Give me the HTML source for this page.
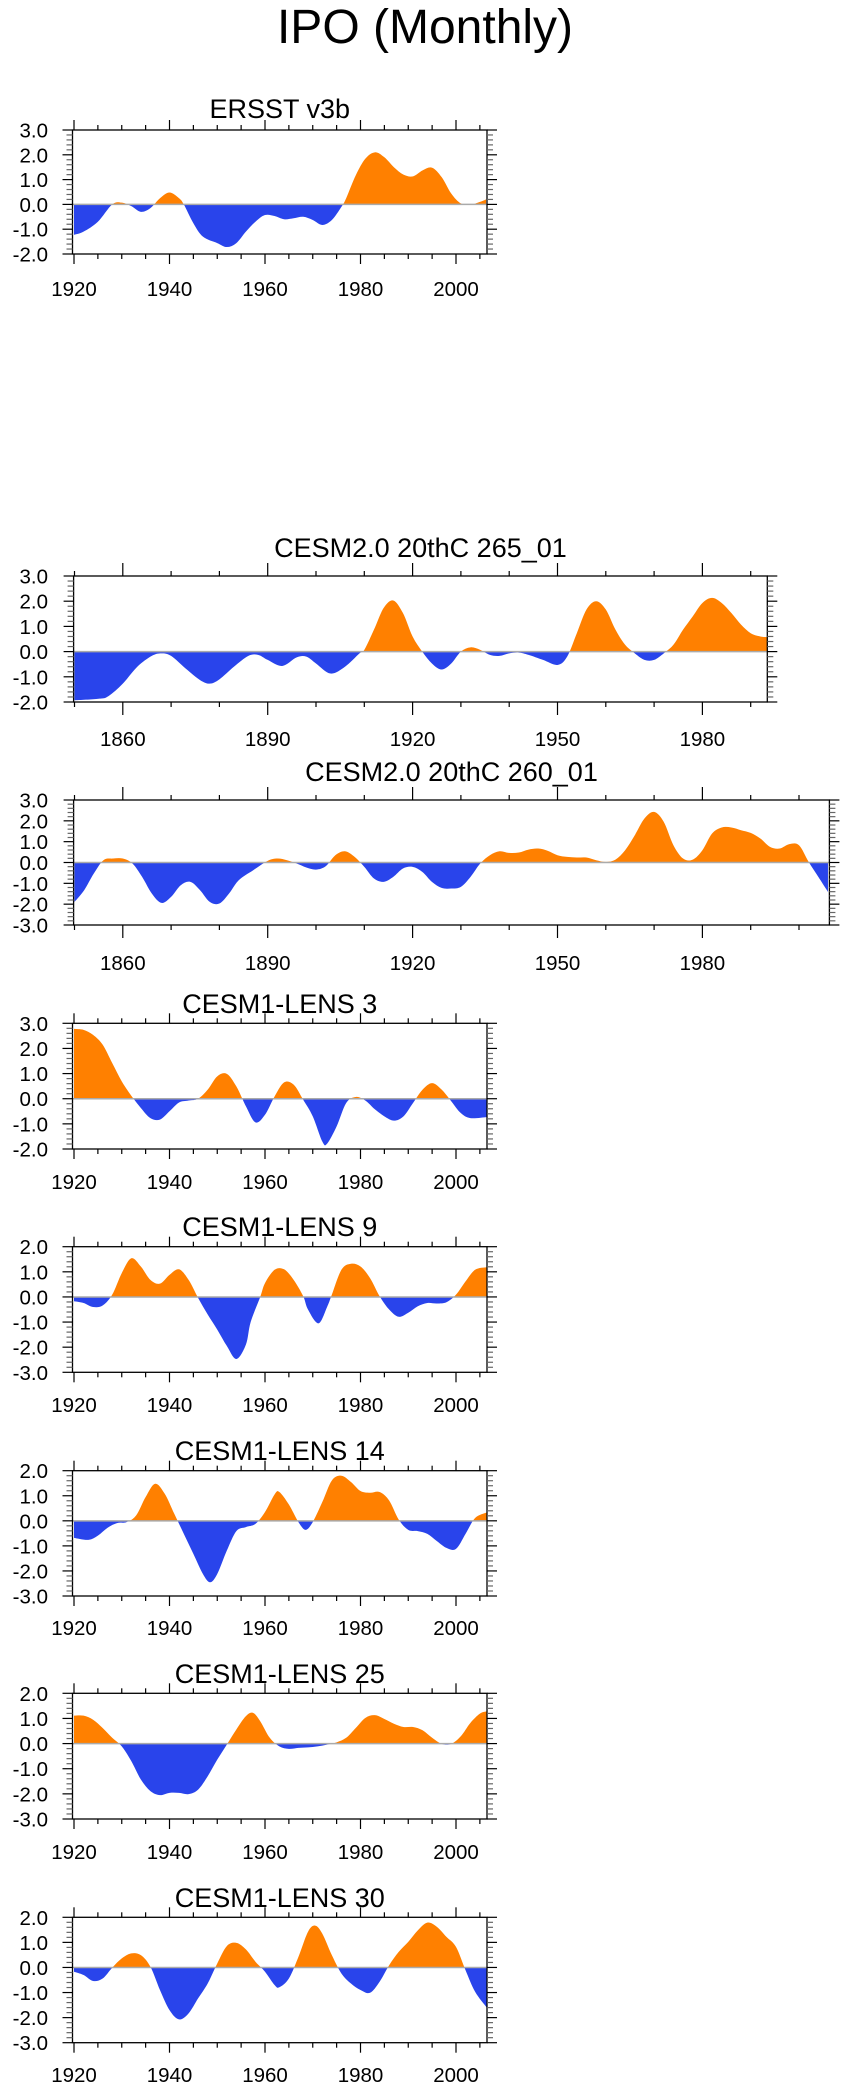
<!DOCTYPE html>
<html><head><meta charset="utf-8">
<style>
html,body{margin:0;padding:0;background:#fff;}
svg{display:block;font-family:"Liberation Sans",Arial,sans-serif;}
</style></head>
<body>
<svg id="fig" width="850" height="2091" viewBox="0 0 850 2091" xmlns="http://www.w3.org/2000/svg">
<text x="425" y="43" font-size="48" text-anchor="middle" fill="#000">IPO (Monthly)</text>
</svg>
<script>
// ---------- data ----------
const ersstYears = [1920,1922,1925,1928,1930,1932,1934,1936,1938,1940,1942,1943,1945,1947,1950,1952,1954,1956,1958,1960,1962,1964,1966,1968,1970,1972,1974,1976,1977,1979,1981,1983,1985,1987,1989,1991,1993,1995,1997,1999,2001,2003,2005,2006.3];
const ersstValues = [-1.23,-1.1,-0.7,0,0.07,-0.07,-0.3,-0.15,0.25,0.48,0.25,0,-0.76,-1.3,-1.56,-1.72,-1.56,-1.1,-0.7,-0.43,-0.47,-0.6,-0.56,-0.5,-0.63,-0.83,-0.63,-0.1,0.25,1.17,1.84,2.1,1.9,1.5,1.2,1.13,1.37,1.48,1.1,0.44,0.04,-0.02,0.1,0.2];

const c265Years = [1850,1855,1857,1860,1863,1866,1868,1870,1873,1876,1878,1880,1883,1886,1888,1890,1893,1896,1898,1900,1903,1906,1909,1910,1912,1914,1916,1918,1920,1922,1924,1926,1928,1930,1932,1934,1936,1938,1940,1942,1944,1947,1950,1952,1954,1956,1958,1960,1962,1964,1966,1968,1970,1972,1974,1976,1978,1980,1982,1984,1986,1988,1990,1992,1993.5];
const c265Values = [-1.93,-1.87,-1.77,-1.27,-0.6,-0.17,-0.07,-0.17,-0.67,-1.13,-1.27,-1.1,-0.6,-0.17,-0.13,-0.33,-0.57,-0.23,-0.2,-0.47,-0.87,-0.6,-0.07,0.07,0.87,1.73,2.03,1.53,0.6,0,-0.47,-0.71,-0.47,0,0.17,0.07,-0.13,-0.17,-0.07,-0.04,-0.13,-0.33,-0.53,-0.2,0.73,1.67,2.0,1.67,0.87,0.27,-0.07,-0.33,-0.33,-0.07,0.27,0.87,1.4,1.93,2.13,1.93,1.53,1.07,0.73,0.6,0.57];

const c260Years = [1850,1852,1854,1856,1858,1860,1862,1864,1866,1868,1870,1872,1874,1876,1878,1880,1882,1884,1887,1890,1892,1894,1896,1898,1900,1902,1904,1906,1908,1910,1912,1914,1916,1918,1920,1922,1924,1926,1928,1930,1932,1934,1936,1938,1940,1942,1944,1946,1948,1950,1952,1954,1956,1958,1960,1962,1964,1966,1968,1970,1972,1974,1976,1978,1980,1982,1984,1986,1988,1990,1992,1994,1996,1998,2000,2002,2004,2006];
const c260Values = [-1.89,-1.33,-0.53,0.11,0.19,0.19,-0.05,-0.69,-1.49,-1.94,-1.65,-1.09,-0.93,-1.33,-1.89,-1.97,-1.49,-0.85,-0.37,0.08,0.19,0.11,-0.05,-0.24,-0.34,-0.18,0.35,0.54,0.27,-0.21,-0.77,-0.93,-0.69,-0.29,-0.21,-0.45,-0.93,-1.22,-1.25,-1.17,-0.69,-0.05,0.35,0.54,0.46,0.48,0.62,0.67,0.56,0.35,0.27,0.24,0.24,0.11,0.03,0.14,0.59,1.31,2.11,2.43,1.95,0.83,0.19,0.14,0.59,1.39,1.68,1.68,1.55,1.42,1.15,0.75,0.67,0.88,0.83,0.03,-0.69,-1.41];

const l3Years = [1920,1922,1924,1926,1928,1930,1932,1934,1936,1938,1940,1942,1944,1946,1948,1950,1952,1954,1956,1958,1960,1962,1964,1966,1968,1970,1972,1973,1975,1977,1979,1981,1983,1985,1987,1989,1991,1993,1995,1997,1999,2001,2003,2006.4];
const l3Values = [2.78,2.74,2.54,2.15,1.42,0.69,0.12,-0.37,-0.77,-0.83,-0.5,-0.15,-0.07,0,0.36,0.89,0.99,0.49,-0.3,-0.94,-0.64,0.09,0.65,0.56,-0.04,-0.7,-1.7,-1.79,-1.1,-0.17,0.07,-0.07,-0.42,-0.7,-0.87,-0.7,-0.17,0.36,0.62,0.36,-0.1,-0.57,-0.77,-0.73];

const l9Years = [1920,1922,1924,1926,1928,1930,1932,1934,1936,1938,1940,1942,1944,1946,1948,1950,1952,1954,1956,1957,1959,1960,1962,1964,1966,1968,1969,1971.2,1973,1974,1976,1978,1980,1982,1984,1986,1988,1990,1992,1994,1996,1998,2000,2002,2004,2006.4];
const l9Values = [-0.17,-0.24,-0.4,-0.34,0.09,0.95,1.54,1.21,0.68,0.53,0.88,1.1,0.68,-0.04,-0.7,-1.3,-1.95,-2.47,-1.9,-1.0,0,0.55,1.08,1.1,0.68,0.03,-0.5,-1.05,-0.4,0.09,1.08,1.32,1.21,0.75,0.03,-0.5,-0.79,-0.63,-0.37,-0.24,-0.26,-0.21,0.09,0.62,1.08,1.18];

const l14Years = [1920,1923,1925,1927,1929,1931,1933,1935,1937,1939,1941,1943,1945,1947,1948.5,1950,1952,1954,1956,1958,1960,1962,1963,1965,1967,1968.5,1970,1972,1974,1976,1978,1980,1982,1984,1986,1988,1990,1992,1994,1996,1998,2000,2002,2004,2006.4];
const l14Values = [-0.68,-0.76,-0.59,-0.28,-0.09,-0.05,0.21,0.95,1.48,1.08,0.28,-0.52,-1.32,-2.12,-2.45,-2.12,-1.19,-0.41,-0.25,-0.12,0.35,1.05,1.15,0.65,-0.05,-0.36,-0.05,0.75,1.61,1.8,1.55,1.19,1.12,1.15,0.81,0.05,-0.36,-0.41,-0.52,-0.81,-1.08,-1.12,-0.52,0.11,0.33];

const l25Years = [1920,1922,1924,1926,1928,1930,1932,1934,1936,1938,1940,1942,1944,1946,1948,1950,1952,1954,1956,1957.5,1959,1961,1963,1965,1967,1969,1971,1973,1975,1977,1979,1981,1983,1985,1987,1989,1991,1993,1995,1997,1999,2001,2003,2005,2006.4];
const l25Values = [1.11,1.11,0.95,0.62,0.23,-0.11,-0.7,-1.43,-1.89,-2.05,-1.96,-1.96,-2.01,-1.83,-1.3,-0.64,-0.04,0.56,1.09,1.22,0.89,0.23,-0.11,-0.21,-0.17,-0.15,-0.11,-0.04,0.05,0.23,0.62,1.02,1.13,0.98,0.79,0.66,0.66,0.53,0.23,-0.01,-0.01,0.29,0.82,1.19,1.28];

const l30Years = [1920,1922,1924,1926,1928,1930,1932,1934,1936,1938,1940,1942,1944,1946,1948,1950,1952,1954,1956,1958,1960,1962,1963,1965,1967,1969,1970.5,1972,1974,1976,1978,1980,1982,1984,1986,1988,1990,1992,1994,1996,1998,2000,2002,2004,2006.4];
const l30Values = [-0.17,-0.3,-0.54,-0.44,-0.01,0.36,0.56,0.49,0.03,-0.9,-1.7,-2.07,-1.83,-1.23,-0.64,0.16,0.85,0.98,0.72,0.23,-0.17,-0.7,-0.79,-0.44,0.42,1.42,1.67,1.35,0.49,-0.24,-0.64,-0.9,-1.01,-0.57,0.09,0.62,1.02,1.48,1.79,1.62,1.22,0.82,-0.11,-0.97,-1.59];

const yTicks5a = [3,2,1,0,-1,-2];
const yTicks6 = [3,2,1,0,-1,-2,-3];
const yTicks5b = [2,1,0,-1,-2,-3];
const xTicksLens = [1920,1940,1960,1980,2000];
const xTicksCesm = [1860,1890,1920,1950,1980];

// ---------- layout ----------
const NS = "http://www.w3.org/2000/svg";
const svg = document.getElementById("fig");
const ORANGE = "#ff8000", BLUE = "#2944eb";
function mk(tag, attrs, parent){
  const e = document.createElementNS(NS, tag);
  for (const k in attrs) e.setAttribute(k, attrs[k]);
  (parent||svg).appendChild(e);
  return e;
}

const panels = [
  {id:"ersst", title:"ERSST v3b", years:ersstYears, values:ersstValues, yTicks:yTicks5a, xTicks:xTicksLens, ymax:3, ymin:-2,
   left:72.5, right:487, y0ref:1920, x0ref:74, pxPerYr:4.775, yrMin:1900, yrMax:2010, minorStep:5, top:130, bottom:254, titleY:118, labY:296},
  {id:"cesm2-265", title:"CESM2.0 20thC 265_01", years:c265Years, values:c265Values, yTicks:yTicks5a, xTicks:xTicksCesm, ymax:3, ymin:-2,
   left:73.6, right:767.3, y0ref:1860, x0ref:122.8, pxPerYr:4.83, yrMin:1850, yrMax:1993, minorStep:10, top:576, bottom:702, titleY:557, labY:746},
  {id:"cesm2-260", title:"CESM2.0 20thC 260_01", years:c260Years, values:c260Values, yTicks:yTicks6, xTicks:xTicksCesm, ymax:3, ymin:-3,
   left:73.6, right:829.4, y0ref:1860, x0ref:122.8, pxPerYr:4.83, yrMin:1850, yrMax:2006, minorStep:10, top:800, bottom:925, titleY:781, labY:970},
  {id:"lens-3", title:"CESM1-LENS 3", years:l3Years, values:l3Values, yTicks:yTicks5a, xTicks:xTicksLens, ymax:3, ymin:-2,
   left:72.5, right:487, y0ref:1920, x0ref:74, pxPerYr:4.775, yrMin:1900, yrMax:2010, minorStep:5, top:1023.3, bottom:1149, titleY:1013, labY:1189},
  {id:"lens-9", title:"CESM1-LENS 9", years:l9Years, values:l9Values, yTicks:yTicks5b, xTicks:xTicksLens, ymax:2, ymin:-3,
   left:72.5, right:487, y0ref:1920, x0ref:74, pxPerYr:4.775, yrMin:1900, yrMax:2010, minorStep:5, top:1246.7, bottom:1372.3, titleY:1236, labY:1412},
  {id:"lens-14", title:"CESM1-LENS 14", years:l14Years, values:l14Values, yTicks:yTicks5b, xTicks:xTicksLens, ymax:2, ymin:-3,
   left:72.5, right:487, y0ref:1920, x0ref:74, pxPerYr:4.775, yrMin:1900, yrMax:2010, minorStep:5, top:1470.7, bottom:1596, titleY:1460, labY:1635},
  {id:"lens-25", title:"CESM1-LENS 25", years:l25Years, values:l25Values, yTicks:yTicks5b, xTicks:xTicksLens, ymax:2, ymin:-3,
   left:72.5, right:487, y0ref:1920, x0ref:74, pxPerYr:4.775, yrMin:1900, yrMax:2010, minorStep:5, top:1693.3, bottom:1819, titleY:1683, labY:1859},
  {id:"lens-30", title:"CESM1-LENS 30", years:l30Years, values:l30Values, yTicks:yTicks5b, xTicks:xTicksLens, ymax:2, ymin:-3,
   left:72.5, right:487, y0ref:1920, x0ref:74, pxPerYr:4.775, yrMin:1900, yrMax:2010, minorStep:5, top:1917.3, bottom:2042.7, titleY:1907, labY:2082}
];

function smoothPath(pts){
  let d = "";
  for (let i=0;i<pts.length-1;i++){
    const p0 = pts[Math.max(0,i-1)], p1 = pts[i], p2 = pts[i+1], p3 = pts[Math.min(pts.length-1,i+2)];
    const c1x = p1[0] + (p2[0]-p0[0])/6, c1y = p1[1] + (p2[1]-p0[1])/6;
    const c2x = p2[0] - (p3[0]-p1[0])/6, c2y = p2[1] - (p3[1]-p1[1])/6;
    d += ` C${c1x.toFixed(2)},${c1y.toFixed(2)} ${c2x.toFixed(2)},${c2y.toFixed(2)} ${p2[0].toFixed(2)},${p2[1].toFixed(2)}`;
  }
  return d;
}

panels.forEach(P => {
  const xs = yr => P.x0ref + (yr - P.y0ref) * P.pxPerYr;
  const ys = v => P.top + (P.ymax - v) / (P.ymax - P.ymin) * (P.bottom - P.top);
  const g = mk("g", {});
  
  

  const cx = (P.left + P.right) / 2;
  const t = mk("text", {x:cx, y:P.titleY, "font-size":27, "text-anchor":"middle", fill:"#000"}, g);
  t.textContent = P.title;
  
  

  const z = ys(0);
  const pts = P.years.map((yr,i) => [xs(yr), ys(P.values[i])]);
  const d = `M${pts[0][0].toFixed(2)},${z.toFixed(2)} L${pts[0][0].toFixed(2)},${pts[0][1].toFixed(2)}` + smoothPath(pts) + ` L${pts[pts.length-1][0].toFixed(2)},${z.toFixed(2)} Z`;
  const defs = mk("defs", {}, g);
  const cpA = mk("clipPath", {id:"ca-"+P.id}, defs);
  mk("rect", {x:P.left, y:P.top, width:P.right-P.left, height:z-P.top}, cpA);
  const cpB = mk("clipPath", {id:"cb-"+P.id}, defs);
  mk("rect", {x:P.left, y:z, width:P.right-P.left, height:P.bottom-z}, cpB);
  const pa = mk("path", {d:d, fill:ORANGE, "clip-path":`url(#ca-${P.id})`}, g);
  
  
  const pb = mk("path", {d:d, fill:BLUE, "clip-path":`url(#cb-${P.id})`}, g);
  
  

  const zl = mk("line", {x1:P.left, x2:P.right, y1:z, y2:z, stroke:"#aaa", "stroke-width":1.5}, g);
  
  

  const fr = mk("rect", {x:P.left, y:P.top, width:P.right-P.left, height:P.bottom-P.top, fill:"none", stroke:"#000", "stroke-width":1.3}, g);
  
  

  for (let v = P.ymin; v <= P.ymax + 1e-6; v += 0.2){
    const vy = ys(v);
    const major = Math.abs(v - Math.round(v)) < 1e-6;
    const L = major ? 10 : 6;
    mk("line", {x1:P.left-L, x2:P.left, y1:vy, y2:vy, stroke: major?"#000":"#666", "stroke-width":1.2}, g);
    mk("line", {x1:P.right, x2:P.right+L, y1:vy, y2:vy, stroke: major?"#000":"#666", "stroke-width":1.2}, g);
  }
  P.yTicks.forEach(v => {
    const lt = mk("text", {x:48, y:ys(v)+7.5, "font-size":20.5, "text-anchor":"end", fill:"#000"}, g);
    lt.textContent = v.toFixed(1);
    
    
  });

  const start = Math.ceil(P.yrMin / P.minorStep) * P.minorStep;
  for (let yr = start; yr <= P.yrMax; yr += P.minorStep){
    const px = xs(yr);
    if (px < P.left - 1 || px > P.right + 1) continue;
    const major = P.xTicks.includes(yr);
    const L = major ? (P.minorStep===10 ? 13 : 10) : 5;
    mk("line", {x1:px, x2:px, y1:P.bottom, y2:P.bottom+L, stroke:"#000", "stroke-width":1.2}, g);
    mk("line", {x1:px, x2:px, y1:P.top, y2:P.top-L, stroke:"#000", "stroke-width":1.2}, g);
  }
  P.xTicks.forEach(yr => {
    const xt = mk("text", {x:xs(yr), y:P.labY, "font-size":20.5, "text-anchor":"middle", fill:"#000"}, g);
    xt.textContent = String(yr);
    
    
  });
});
</script>
</body></html>
